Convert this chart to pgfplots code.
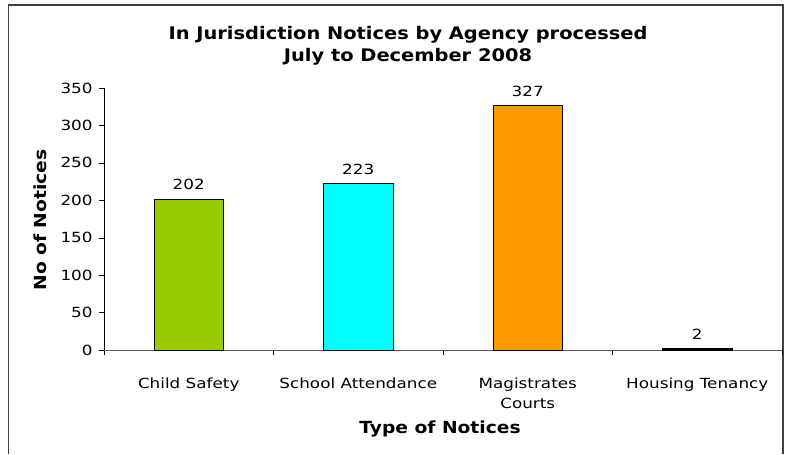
\documentclass[border=0pt]{standalone}
\usepackage{pgfplots}
\pgfplotsset{compat=1.18}
\usepackage{fontspec}
\setmainfont{DejaVu Sans}
\newfontfamily\tickfont[FakeStretch=1.2]{DejaVu Sans}
\newfontfamily\headfont[FakeStretch=1.12]{DejaVu Sans}
\definecolor{cgreen}{HTML}{99CC00}
\definecolor{ccyan}{HTML}{00FFFF}
\definecolor{corange}{HTML}{FF9900}
\definecolor{frame}{HTML}{404040}
\begin{document}
\begin{tikzpicture}
\useasboundingbox (0,0) rectangle (590.25pt,340.5pt);
% outer chart frame (bottom edge is cropped in the reference)
\draw[frame, line width=1.2pt] (6.5pt,0) -- (6.5pt,336.75pt) -- (587.25pt,336.75pt) -- (587.25pt,0);

\begin{axis}[
    at={(78pt,78pt)}, anchor=south west,
    scale only axis,
    width=508.5pt, height=196.5pt,
    ybar, bar width=0.41,
    xmin=-0.5, xmax=3.5,
    ymin=0, ymax=350,
    ytick={0,50,...,350},
    xtick={-0.5,0.5,1.5,2.5,3.5},
    x tick label as interval,
    xticklabels={Child Safety,School Attendance,{Magistrates\\Courts},Housing Tenancy},
    x tick label style={align=center, font=\tickfont\fontsize{10.5}{15}\selectfont, yshift=-13pt},
    y tick label style={font=\tickfont\fontsize{10.5}{12}\selectfont, xshift=-1pt},
    /pgf/number format/assume math mode=true,
    axis lines*=left,
    axis line style={-},
    x axis line style={draw=gray!70!black},
    tick align=outside,
    major tick length=4pt,
    tick style={black},
    nodes near coords,
    every node near coord/.append style={font=\tickfont\fontsize{10.5}{12}\selectfont, black, yshift=3pt},
    clip=false,
]
\addplot[fill=cgreen, draw=black, bar shift=0pt] coordinates {(0,202)};
\addplot[fill=ccyan, draw=black, bar shift=0pt] coordinates {(1,223)};
\addplot[fill=corange, draw=black, bar shift=0pt] coordinates {(2,327)};
\addplot[fill=black, draw=black, bar shift=0pt] coordinates {(3,2)};
\end{axis}

\node[align=center, font=\headfont\fontsize{13}{17}\selectfont\bfseries] at (306pt,306.2pt)
  {In Jurisdiction Notices by Agency processed\\July to December 2008};
\node[rotate=90, font=\headfont\fontsize{12.5}{14}\selectfont\bfseries] at (30pt,175.5pt) {No of Notices};
\node[font=\headfont\fontsize{12.5}{14}\selectfont\bfseries] at (330pt,19pt) {Type of Notices};
\end{tikzpicture}
\end{document}
